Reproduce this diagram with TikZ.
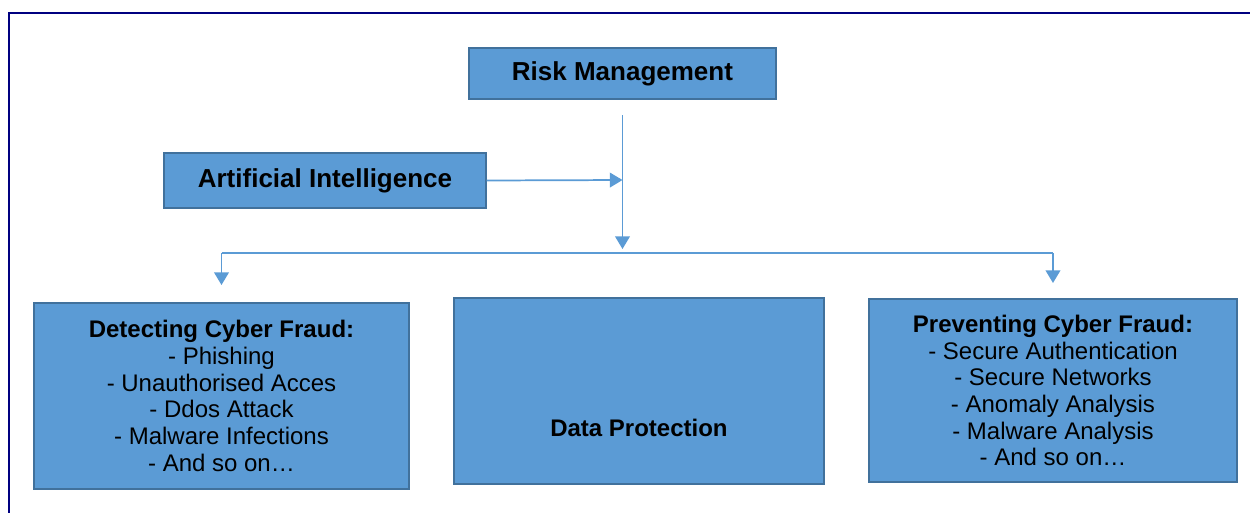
\documentclass[tikz,border=0pt]{standalone}
\usepackage{fontspec}
\setmainfont{Liberation Sans}
\usetikzlibrary{arrows.meta}
\definecolor{boxfill}{HTML}{5B9BD5}
\definecolor{boxline}{HTML}{41719C}
\definecolor{connline}{HTML}{5B9BD5}
\definecolor{framecol}{HTML}{000080}
\tikzset{
  blockbox/.style={draw=boxline, fill=boxfill, line width=0.8pt, inner sep=0pt, align=center, text=black},
  conn/.style={draw=connline, line width=1.3pt},
  connarrow/.style={conn, -{Triangle[width=11pt,length=9.5pt]}},
  bodytext/.style={font=\fontsize{18}{20}\selectfont},
}
\begin{document}
\begin{tikzpicture}[x=0.75pt,y=-0.75pt]
\useasboundingbox (0,0) rectangle (1250,512);
% frame
\draw[framecol, line width=1.6pt] (9,520) -- (9,13) -- (1260,13);

\node[blockbox, minimum width=230.25pt, minimum height=38.25pt, font=\fontsize{19.5}{22}\selectfont\bfseries] (rm) at (622.5,73.5) {Risk Management};
\node[blockbox, minimum width=241.5pt, minimum height=41.25pt, font=\fontsize{19.5}{22}\selectfont\bfseries] (ai) at (325,180.5) {Artificial Intelligence};

\node[blockbox, minimum width=281.25pt, minimum height=139.5pt, bodytext] (det) at (221.5,396) {\textbf{Detecting Cyber Fraud:}\\- Phishing\\- Unauthorised Acces\\- Ddos Attack\\- Malware Infections\\- And so on\dots};
\node[blockbox, minimum width=277.5pt, minimum height=139.5pt] (dp) at (639,391) {};
\node[bodytext, font=\fontsize{18}{20}\selectfont\bfseries, inner sep=0pt] (dptext) at (639,428) {Data Protection};
\node[blockbox, minimum width=276pt, minimum height=137.25pt, bodytext] (prev) at (1053,390.5) {\textbf{Preventing Cyber Fraud:}\\- Secure Authentication\\- Secure Networks\\- Anomaly Analysis\\- Malware Analysis\\- And so on\dots};

\coordinate (rmstart) at (622.5,115);
\coordinate (hit) at (622.5,180);
\coordinate (busmid) at (622.5,249);
\coordinate (busl) at (221.5,253);
\coordinate (busr) at (1053,253);
\coordinate (detin) at (221.5,285);
\coordinate (previn) at (1053,283);

\draw[connarrow] (rmstart) -- (busmid);
\draw[connarrow] (ai.east) -- (hit);
\draw[conn] (busl) -- (busr);
\draw[connarrow] (busl) -- (detin);
\draw[connarrow] (busr) -- (previn);
\end{tikzpicture}
\end{document}
